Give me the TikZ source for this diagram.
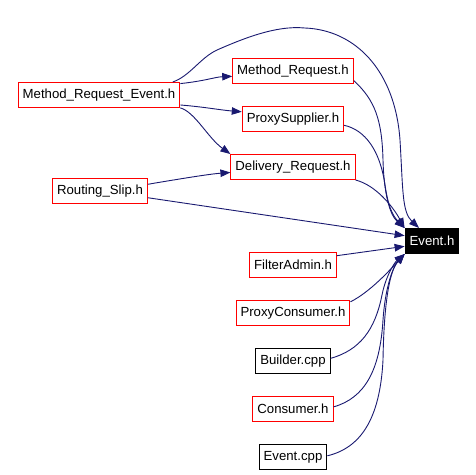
\documentclass[tikz,border=0pt]{standalone}
\usepackage{fontspec}
\setmainfont{Liberation Sans}
\usepackage{tikz}
\usetikzlibrary{positioning,arrows.meta}

\definecolor{edgeblue}{RGB}{25,25,112}

\begin{document}
\begin{tikzpicture}[x=1pt,y=-1pt]

\tikzstyle{incbox} = [draw=red, line width=1pt, fill=white, inner xsep=4.5pt, inner ysep=0pt, minimum height=25pt, font=\fontsize{13.2}{15}\selectfont]
\tikzstyle{srcbox} = [incbox, draw=black]
\tikzstyle{targetbox} = [incbox, draw=black, fill=black, text=white]
\tikzstyle{dep} = [draw=edgeblue, line width=0.9pt, -{Triangle[length=10pt,width=7.5pt]}]

\newcommand{\incbox}[2]{node (p#1) [incbox]
{#2}}
\newcommand{\srcbox}[2]{node (p#1) [srcbox]
{#2}}
\newcommand{\targetbox}[2]{node (p#1) [targetbox]
{#2}}

\useasboundingbox (0,0) rectangle (475,475);

\path (99,95) \incbox{mre}{Method\_Request\_Event.h};
\path (100,191) \incbox{rs}{Routing\_Slip.h};
\path (432,241) \targetbox{ev}{Event.h};

\path (293,71) \incbox{mr}{Method\_Request.h};
\path (pmr)+(0,48) \incbox{ps}{ProxySupplier.h};
\path (pps)+(0,48) \incbox{dr}{Delivery\_Request.h};
\path (pdr)+(0,98) \incbox{fa}{FilterAdmin.h};
\path (pfa)+(0,48) \incbox{pc}{ProxyConsumer.h};
\path (ppc)+(0,48) \srcbox{bu}{Builder.cpp};
\path (pbu)+(0,48) \incbox{co}{Consumer.h};
\path (pco)+(0,48) \srcbox{ec}{Event.cpp};

% edges out of Method_Request_Event.h
\draw[dep] (pmre.8) .. controls (205,81) and (215,77) .. (pmr.185);
\draw[dep] (pmre.-7) .. controls (205,107) and (220,110) .. (pps.172);
\draw[dep] (pmre.-9) .. controls (195,112) and (208,138) .. (pdr.north west);
\draw[dep] (pmre.10) .. controls (190,76) and (200,58) .. (217,50)
  .. controls (240,40) and (275,25) .. (305,28)
  .. controls (355,30) and (395,70) .. (400,140)
  .. controls (403,190) and (402,212) .. (pev.135);

% edges out of Routing_Slip.h
\draw[dep] (prs.8) .. controls (185,178) and (210,174) .. (pdr.185);
\draw[dep] (prs.-8) -- (pev.169);

% edges into Event.h
\draw[dep] (pmr.-9) .. controls (375,100) and (382,120) .. (383,160)
  .. controls (384,195) and (390,215) .. (pev.north west);
\draw[dep] (pps.-7) .. controls (365,130) and (380,150) .. (385,185)
  .. controls (388,205) and (392,215) .. (pev.north west);
\draw[dep] (pdr.south east) .. controls (375,185) and (392,205) .. (pev.north west);
\draw[dep] (pfa.12) -- (pev.191);
\draw[dep] (ppc.11) .. controls (370,292) and (390,270) .. (pev.south west);
\draw[dep] (pbu.4) .. controls (360,350) and (375,330) .. (382,295)
  .. controls (386,275) and (395,262) .. (pev.south west);
\draw[dep] (pco.3) .. controls (365,398) and (380,370) .. (383,320)
  .. controls (385,290) and (392,268) .. (pev.south west);
\draw[dep] (pec.2) .. controls (360,448) and (380,420) .. (383,360)
  .. controls (384,300) and (390,270) .. (pev.south west);

\end{tikzpicture}
\end{document}
